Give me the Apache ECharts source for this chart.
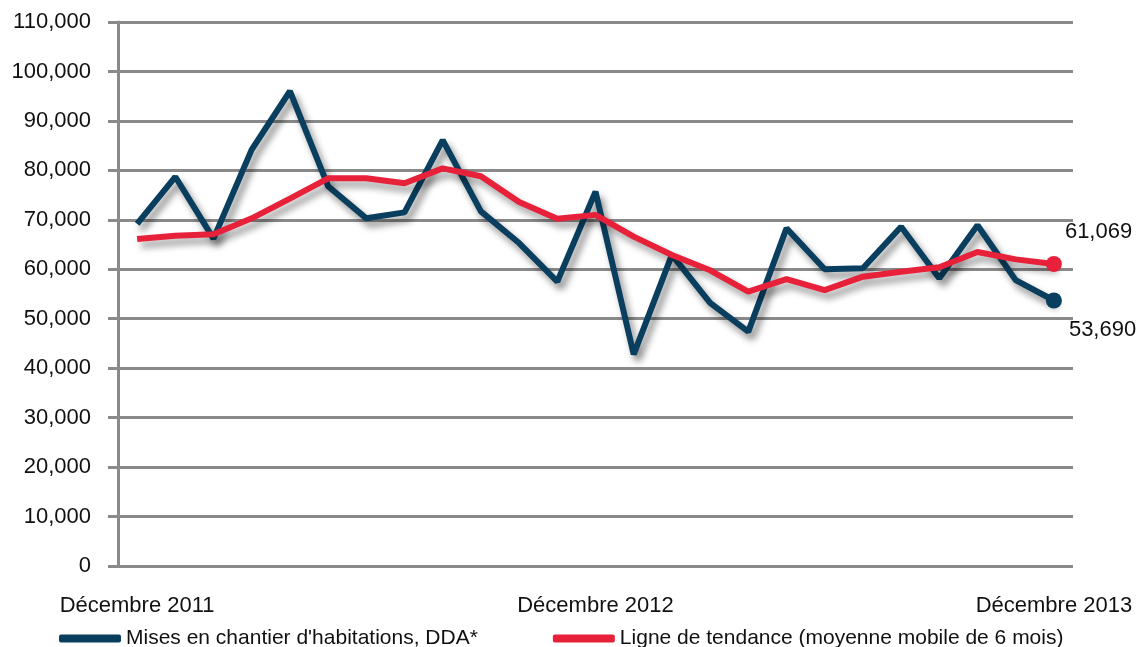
<!DOCTYPE html>
<html>
<head>
    <meta charset="UTF-8">
    <title>Mises en chantier</title>
    <script src="https://cdn.jsdelivr.net/npm/echarts@6/dist/echarts.min.js"></script>
    <style>
        html, body { margin: 0; padding: 0; background: #fff; }
        #chart { width: 1136px; height: 647px; }
    </style>
</head>
<body>
    <div id="chart"></div>
    <script>
        // 25 months, Dec 2011 .. Dec 2013
        var months = [
            'Décembre 2011', 'Janvier 2012', 'Février 2012', 'Mars 2012', 'Avril 2012', 'Mai 2012',
            'Juin 2012', 'Juillet 2012', 'Août 2012', 'Septembre 2012', 'Octobre 2012', 'Novembre 2012',
            'Décembre 2012', 'Janvier 2013', 'Février 2013', 'Mars 2013', 'Avril 2013', 'Mai 2013',
            'Juin 2013', 'Juillet 2013', 'Août 2013', 'Septembre 2013', 'Octobre 2013', 'Novembre 2013',
            'Décembre 2013'
        ];
        var shownLabels = ['Décembre 2011', 'Décembre 2012', 'Décembre 2013'];

        var misesEnChantier = [
            69200, 78700, 66200, 84200, 96000, 76800, 70300, 71500, 86100, 71700, 65300, 57500,
            75700, 42800, 62900, 53200, 47400, 68300, 60000, 60200, 68600, 58200, 68900, 57800,
            53690
        ];
        var tendance = [
            66100, 66800, 67100, 70300, 74300, 78400, 78400, 77400, 80400, 78800, 73600, 70200,
            71000, 66600, 62900, 59800, 55500, 58000, 55800, 58500, 59500, 60400, 63500, 62000,
            61069
        ];

        var BLUE = '#0a3e5e';
        var RED = '#e8213a';
        var GRID = '#8a8a8a';
        var FONT = '"Liberation Sans", Arial, sans-serif';

        function fmt(v) {
            return v.toLocaleString('en-US');
        }

        // only the last point gets a dot and a value label
        function withEndPoint(values, labelOffset) {
            return values.map(function (v, i) {
                if (i < values.length - 1) return v;
                return {
                    value: v,
                    symbol: 'circle',
                    symbolSize: 16,
                    label: {
                        show: true,
                        position: 'right',
                        offset: labelOffset,
                        formatter: function (p) { return fmt(p.value); },
                        color: '#111',
                        fontSize: 22,
                        fontFamily: FONT
                    }
                };
            });
        }

        var chart = echarts.init(document.getElementById('chart'), null, {renderer: 'canvas'});

        chart.setOption({
            animation: false,
            backgroundColor: '#fff',
            grid: {left: 118, right: 63, top: 22, bottom: 81, containLabel: false},
            legend: {
                left: 54,
                top: 623,
                itemWidth: 62,
                itemHeight: 8,
                itemGap: 75,
                textStyle: {color: '#111', fontSize: 21, fontFamily: FONT},
                data: [
                    {name: "Mises en chantier d'habitations, DDA*", icon: 'roundRect'},
                    {name: 'Ligne de tendance (moyenne mobile de 6 mois)', icon: 'roundRect'}
                ]
            },
            xAxis: {
                type: 'category',
                data: months,
                boundaryGap: true,
                axisLine: {show: false},
                axisTick: {show: false},
                axisLabel: {
                    interval: 0,
                    margin: 29,
                    color: '#111',
                    fontSize: 22,
                    fontFamily: FONT,
                    formatter: function (v) {
                        return shownLabels.indexOf(v) >= 0 ? v : '';
                    }
                },
                splitLine: {show: false}
            },
            yAxis: {
                type: 'value',
                min: 0,
                max: 110000,
                interval: 10000,
                axisLine: {show: true, lineStyle: {color: GRID, width: 3}},
                axisTick: {show: true, length: 10, lineStyle: {color: GRID, width: 3}},
                axisLabel: {
                    margin: 27,
                    color: '#111',
                    fontSize: 22,
                    fontFamily: FONT,
                    formatter: fmt
                },
                splitLine: {show: true, lineStyle: {color: GRID, width: 3}}
            },
            series: [
                {
                    name: "Mises en chantier d'habitations, DDA*",
                    type: 'line',
                    symbol: 'none',
                    showAllSymbol: true,
                    color: BLUE,
                    z: 3,
                    lineStyle: {
                        color: BLUE,
                        width: 6,
                        shadowColor: 'rgba(0,0,0,0.45)',
                        shadowBlur: 7,
                        shadowOffsetX: 4,
                        shadowOffsetY: 6
                    },
                    itemStyle: {color: BLUE},
                    data: withEndPoint(misesEnChantier, [2, 29])
                },
                {
                    name: 'Ligne de tendance (moyenne mobile de 6 mois)',
                    type: 'line',
                    symbol: 'none',
                    showAllSymbol: true,
                    color: RED,
                    z: 4,
                    lineStyle: {
                        color: RED,
                        width: 6,
                        shadowColor: 'rgba(0,0,0,0.4)',
                        shadowBlur: 7,
                        shadowOffsetX: 4,
                        shadowOffsetY: 6
                    },
                    itemStyle: {color: RED},
                    data: withEndPoint(tendance, [-2, -32])
                }
            ]
        });
    </script>
</body>
</html>
